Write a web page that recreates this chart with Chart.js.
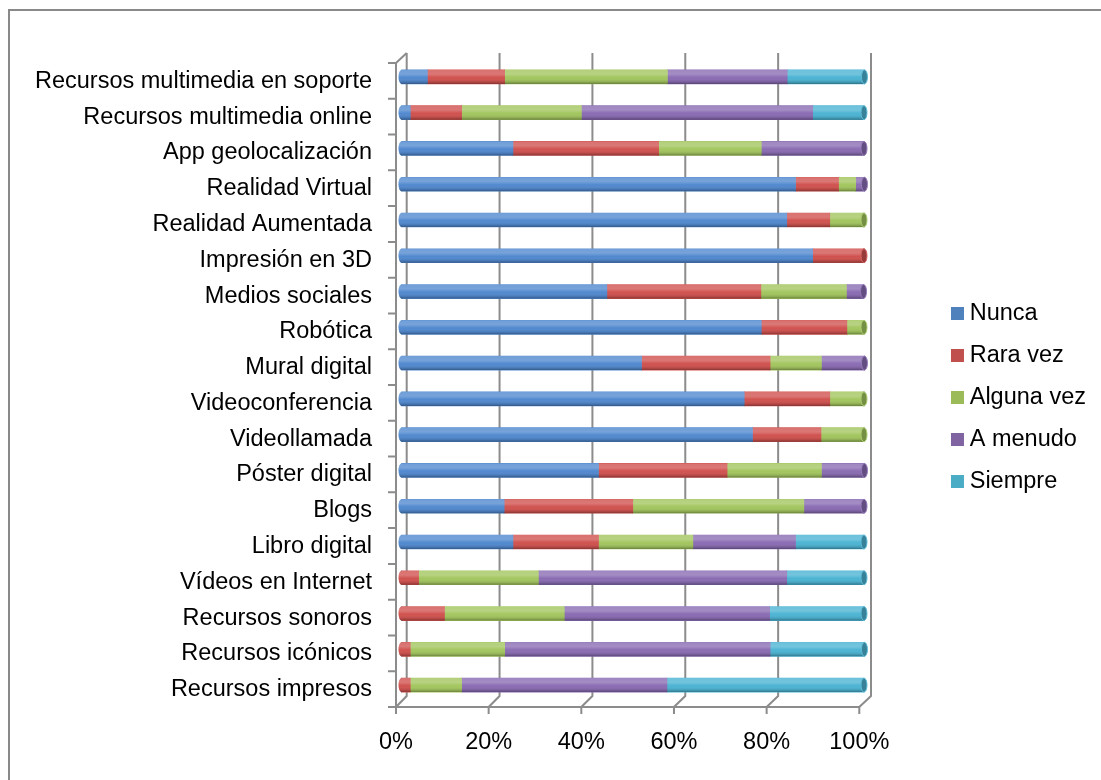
<!DOCTYPE html>
<html>
<head>
<meta charset="utf-8">
<script src="https://cdn.jsdelivr.net/npm/chart.js@4.4.0/dist/chart.umd.min.js"></script>
<style>
html,body{margin:0;padding:0;background:#fff;overflow:hidden}
#wrap{position:relative;width:1101px;height:780px;overflow:hidden}
#frame{position:absolute;left:8px;top:9px;width:1200px;height:900px;border:2px solid #898989;box-sizing:border-box;pointer-events:none}
canvas{position:absolute;left:0;top:0}
</style>
</head>
<body>
<div id="wrap"><div id="frame"></div><canvas id="c" width="1101" height="780"></canvas></div>
<script>
// ---------- data ----------
const categories = [
  'Recursos multimedia en soporte',
  'Recursos multimedia online',
  'App geolocalización',
  'Realidad Virtual',
  'Realidad Aumentada',
  'Impresión en 3D',
  'Medios sociales',
  'Robótica',
  'Mural digital',
  'Videoconferencia',
  'Videollamada',
  'Póster digital',
  'Blogs',
  'Libro digital',
  'Vídeos en Internet',
  'Recursos sonoros',
  'Recursos icónicos',
  'Recursos impresos'
];
const seriesNames = ['Nunca', 'Rara vez', 'Alguna vez', 'A menudo', 'Siempre'];
const nunca     = [5.6, 1.9, 24.1, 85.2, 83.3, 88.9, 44.4, 77.8, 51.9, 74.1, 75.9, 42.6, 22.2, 24.1, 0, 0, 0, 0];
const raraVez   = [16.7, 11.1, 31.5, 9.3, 9.3, 11.1, 33.3, 18.5, 27.8, 18.5, 14.8, 27.8, 27.8, 18.5, 3.7, 9.3, 1.9, 1.9];
const algunaVez = [35.2, 25.9, 22.2, 3.7, 7.4, 0, 18.5, 3.7, 11.1, 7.4, 9.3, 20.4, 37.0, 20.4, 25.9, 25.9, 20.4, 11.1];
const aMenudo   = [25.9, 50.0, 22.2, 1.9, 0, 0, 3.7, 0, 9.3, 0, 0, 9.3, 13.0, 22.2, 53.7, 44.4, 57.4, 44.4];
const siempre   = [16.7, 11.1, 0, 0, 0, 0, 0, 0, 0, 0, 0, 0, 0, 14.8, 16.7, 20.4, 20.4, 42.6];
const tickValues = [0, 20, 40, 60, 80, 100];

// ---------- styles ----------
const barColors = ['#5189CF', '#D0524F', '#A3C65F', '#8A6CB3', '#4CB4D3'];
const legendColors = ['#4F81BD', '#C0504D', '#9BBB59', '#8064A2', '#4BACC6'];
const FONT = 23.5;
const GRID = '#8c8c8c';
// 3D geometry (pixels)
const FRONT_W = 463.3, BACK_DX = 10.7, BACK_W = 464.3, BAR_DX = 5.5, BAR_W = 462.5;

Chart.defaults.font.family = "'Liberation Sans', Arial, sans-serif";
Chart.defaults.color = '#000';

function shade(hex, f) {
  const n = parseInt(hex.slice(1), 16);
  let r = (n >> 16) & 255, g = (n >> 8) & 255, b = n & 255;
  const t = f < 0 ? 0 : 255, p = Math.abs(f);
  r = Math.round(r + (t - r) * p); g = Math.round(g + (t - g) * p); b = Math.round(b + (t - b) * p);
  return 'rgb(' + r + ',' + g + ',' + b + ')';
}
function rangeFor(area, dx, w) {
  const s = w / 100;
  const min = -dx / s;
  return { min: min, max: min + (area.right - area.left) / s };
}

const wallPlugin = {
  id: 'walls',
  beforeDatasetsDraw(chart) {
    const { ctx, chartArea: a, scales } = chart;
    const xt = scales.xt, xg = scales.xg;
    const fTop = a.top + 4, fBot = a.bottom + 4, bTop = a.top - 6, bBot = a.bottom - 7;
    ctx.save();
    ctx.strokeStyle = GRID;
    ctx.lineWidth = 2;
    ctx.lineJoin = 'miter';
    tickValues.forEach(v => {
      const bx = xg.getPixelForValue(v), fx = xt.getPixelForValue(v);
      ctx.beginPath();
      ctx.moveTo(bx, bTop); ctx.lineTo(bx, bBot); ctx.lineTo(fx, fBot); ctx.lineTo(fx, fBot + 7);
      ctx.stroke();
    });
    const x0 = xt.getPixelForValue(0), bx0 = xg.getPixelForValue(0);
    ctx.beginPath();
    ctx.moveTo(x0 - 8, fBot); ctx.lineTo(xt.getPixelForValue(100), fBot);
    ctx.stroke();
    ctx.beginPath();
    ctx.moveTo(x0, fBot); ctx.lineTo(x0, fTop); ctx.lineTo(bx0, bTop);
    ctx.stroke();
    const n = categories.length;
    ctx.beginPath();
    for (let i = 0; i <= n; i++) {
      const yy = fTop + (fBot - fTop) * i / n;
      ctx.moveTo(x0 - 8, yy); ctx.lineTo(x0, yy);
    }
    ctx.stroke();
    ctx.restore();
  }
};

const cylPlugin = {
  id: 'cyl',
  afterDatasetsDraw(chart) {
    const ctx = chart.ctx;
    const ds = chart.data.datasets;
    for (let j = 0; j < categories.length; j++) {
      const segs = [];
      ds.forEach((d, i) => { if (d.data[j] > 0) segs.push({ i: i, el: chart.getDatasetMeta(i).data[j] }); });
      if (!segs.length) continue;
      const p0 = segs[0].el.getProps(['x', 'y', 'base', 'height'], true);
      const h = p0.height, yc = p0.y, top = yc - h / 2, bot = yc + h / 2, rx = 3;
      const last = segs[segs.length - 1].el.getProps(['x'], true).x;
      ctx.save();
      ctx.fillStyle = barColors[segs[0].i];
      ctx.beginPath(); ctx.ellipse(p0.base, yc, rx, h / 2, 0, 0, Math.PI * 2); ctx.fill();
      const grad = ctx.createLinearGradient(0, top, 0, bot);
      grad.addColorStop(0, 'rgba(255,255,255,0.18)');
      grad.addColorStop(0.3, 'rgba(255,255,255,0.22)');
      grad.addColorStop(0.55, 'rgba(255,255,255,0)');
      grad.addColorStop(0.85, 'rgba(0,0,0,0.12)');
      grad.addColorStop(1, 'rgba(0,0,0,0.35)');
      ctx.fillStyle = grad;
      ctx.beginPath();
      ctx.ellipse(p0.base, yc, rx, h / 2, 0, Math.PI / 2, Math.PI * 1.5);
      ctx.lineTo(last, top); ctx.lineTo(last, bot); ctx.closePath();
      ctx.fill();
      const ci = segs[segs.length - 1].i;
      ctx.fillStyle = shade(barColors[ci], -0.28);
      ctx.beginPath(); ctx.ellipse(last, yc, rx, h / 2, 0, 0, Math.PI * 2); ctx.fill();
      ctx.strokeStyle = shade(barColors[ci], 0.1);
      ctx.lineWidth = 1;
      ctx.stroke();
      ctx.restore();
    }
  }
};

const seriesData = [nunca, raraVez, algunaVez, aMenudo, siempre];
const guess = { left: 396, right: 938 };
const rBar = rangeFor(guess, BAR_DX, BAR_W), rFront = rangeFor(guess, 0, FRONT_W), rBack = rangeFor(guess, BACK_DX, BACK_W);

const chart = new Chart(document.getElementById('c'), {
  type: 'bar',
  data: {
    labels: categories,
    datasets: seriesNames.map((name, i) => ({
      label: name,
      data: seriesData[i],
      backgroundColor: barColors[i],
      borderWidth: 0,
      barThickness: 14,
      xAxisID: 'x',
      yAxisID: 'y'
    }))
  },
  options: {
    indexAxis: 'y',
    responsive: false,
    animation: false,
    devicePixelRatio: window.devicePixelRatio || 1,
    layout: { padding: { left: 35, right: 5, top: 39, bottom: 24 } },
    scales: {
      y: {
        type: 'category',
        stacked: true,
        grid: { display: false, drawTicks: false },
        border: { display: false },
        ticks: { font: { size: FONT }, color: '#000', padding: 24, labelOffset: 4.5, autoSkip: false },
        afterFit: s => { s.width = 361; }
      },
      x: {
        type: 'linear', stacked: true, display: false,
        min: rBar.min, max: rBar.max
      },
      xg: {
        type: 'linear', display: false, position: 'bottom',
        min: rBack.min, max: rBack.max
      },
      xt: {
        type: 'linear', position: 'bottom',
        min: rFront.min, max: rFront.max,
        grid: { display: false, drawTicks: false },
        border: { display: false },
        ticks: { font: { size: FONT }, color: '#000', padding: 25, maxRotation: 0, autoSkip: false,
                 callback: v => v + '%' },
        afterBuildTicks: s => { s.ticks = tickValues.map(v => ({ value: v })); },
        afterFit: s => { s.height = 53; }
      }
    },
    plugins: {
      tooltip: { enabled: false },
      title: {
        display: true,
        text: '',
        font: { size: 10, lineHeight: 1 },
        padding: { top: 10, bottom: 0 }
      },
      legend: {
        position: 'right',
        labels: {
          font: { size: FONT },
          color: '#000',
          padding: 18.5,
          boxWidth: 1,
          boxHeight: 13,
          usePointStyle: true,
          pointStyle: 'rect',
          generateLabels: ch => ch.data.datasets.map((d, i) => ({
            text: d.label,
            fillStyle: legendColors[i],
            strokeStyle: legendColors[i],
            lineWidth: 0,
            pointStyle: 'rect',
            hidden: false,
            datasetIndex: i
          }))
        }
      }
    }
  },
  plugins: [wallPlugin, cylPlugin]
});

// calibrate the three x scales to the actual plot area
(function calibrate() {
  const a = chart.chartArea;
  const b = rangeFor(a, BAR_DX, BAR_W), f = rangeFor(a, 0, FRONT_W), g = rangeFor(a, BACK_DX, BACK_W);
  const sc = chart.options.scales;
  sc.x.min = b.min; sc.x.max = b.max;
  sc.xt.min = f.min; sc.xt.max = f.max;
  sc.xg.min = g.min; sc.xg.max = g.max;
  chart.update('none');
})();
</script>
</body>
</html>
